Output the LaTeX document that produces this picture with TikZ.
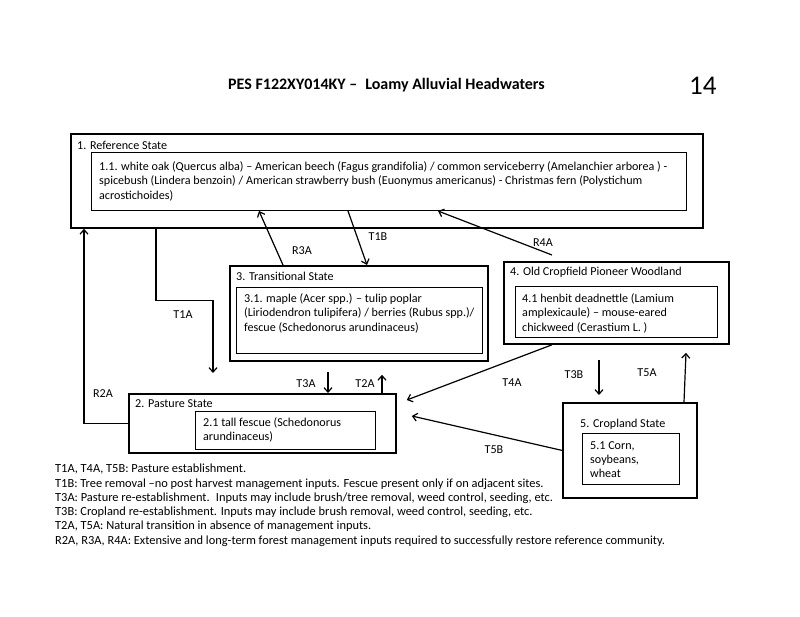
\documentclass[tikz,border=0pt]{standalone}
\usepackage{fontspec}
\setmainfont{Carlito}
\usetikzlibrary{arrows.meta,calc}
\begin{document}
\begin{tikzpicture}[x=1pt,y=-1pt, font=\fontsize{12.1}{14.4}\selectfont,
 outer/.style={draw, line width=1.8pt, anchor=north west, inner sep=0},
 inner/.style={draw, line width=1pt, anchor=north west, inner sep=0},
 txt/.style={anchor=north west, inner sep=0, align=left},
 ttl/.style={anchor=west, inner sep=0},
 conn/.style={line width=1.2pt, -{Straight Barb[length=4.5pt,width=8pt]}},
 tl/.style={inner sep=0}]
\useasboundingbox[fill=white] (0,0) rectangle (800,617);
% title
\node[ttl, font=\bfseries\fontsize{16}{18}\selectfont] (title) at (228,85) {PES F122XY014KY –\enspace Loamy Alluvial Headwaters};
\node[ttl, font=\fontsize{27}{30}\selectfont] (num) at (689,86) {14};
% boxes
\node[outer, minimum width=632, minimum height=94] (ref) at (70,133) {};
\node[inner, minimum width=595, minimum height=58] (refin) at (91,152) {};
\node[outer, minimum width=258, minimum height=95] (trans) at (229,265) {};
\node[inner, minimum width=246, minimum height=66] (transin) at (236,287) {};
\node[outer, minimum width=225, minimum height=82] (old) at (503,261) {};
\node[inner, minimum width=202, minimum height=51] (oldin) at (515,286) {};
\node[outer, minimum width=267, minimum height=59] (past) at (128,393) {};
\node[inner, minimum width=180, minimum height=38] (pastin) at (195,411) {};
\node[outer, minimum width=134, minimum height=95] (crop) at (562,402) {};
\node[inner, minimum width=97, minimum height=51] (cropin) at (582,433) {};
% box titles
\node[ttl] (reft) at (77,145) {1. Reference State};
\node[ttl] (transt) at (236,276) {3. Transitional State};
\node[ttl] (oldt) at (510,272) {4. Old Cropfield Pioneer Woodland};
\node[ttl] (pastt) at (135,404) {2. Pasture State};
\node[ttl] (cropt) at (580,424) {5. Cropland State};
% box texts
\node[txt] (reftx) at (99,161.5) {1.1. white oak (Quercus alba) – American beech (Fagus grandifolia) / common serviceberry (Amelanchier arborea ) -\\
spicebush (Lindera benzoin) / American strawberry bush (Euonymus americanus) - Christmas fern (Polystichum\\
acrostichoides)};
\node[txt] (transtx) at (244,293.5) {3.1. maple (Acer spp.) – tulip poplar\\
(Liriodendron tulipifera) / berries (Rubus spp.)/\\
fescue (Schedonorus arundinaceus)};
\node[txt] (oldtx) at (522,293.5) {4.1 henbit deadnettle (Lamium\\
amplexicaule) – mouse-eared\\
chickweed (Cerastium L. )};
\node[txt] (pasttx) at (203,417.5) {2.1 tall fescue (Schedonorus\\
arundinaceus)};
\node[txt] (croptx) at (590,441) {5.1 Corn,\\
soybeans,\\
wheat};
% connectors
\draw[conn] ($(ref.south west)+(86,0)$) -- ++(0,72) -| ($(past.north west)+(85,-20)$);
\draw[conn] (past.west) -| ($(ref.south west)+(14,0)$);
\draw[conn] ($(trans.north west)+(54,0)$) -- ($(refin.south west)+(168,0)$);
\draw[conn] ($(refin.south west)+(257,0)$) -- ($(trans.north west)+(138,0)$);
\draw[conn] ($(old.north west)+(49,-6)$) -- ($(refin.south west)+(347,0)$);
\draw[conn] ($(trans.south west)+(99,10)$) -- ($(past.north west)+(200,0)$);
\draw[conn] ($(past.north west)+(254,0)$) -- ($(trans.south west)+(153,13)$);
\draw[conn] ($(old.south west)+(49,0)$) -- ($(past.north east)+(10,7)$);
\draw[conn] (crop.west) -- ($(past.north east)+(15,23)$);
\draw[conn] ($(old.south west)+(96,15)$) -- ($(crop.north west)+(37,-7)$);
\draw[conn] ($(crop.north west)+(122,0)$) -- ($(old.south west)+(183,8)$);
% connector labels
\node[tl] (lt1a) at (183,315) {T1A};
\node[tl] (lr2a) at (103,394) {R2A};
\node[tl] (lr3a) at (302,251) {R3A};
\node[tl] (lt1b) at (378,237) {T1B};
\node[tl] (lr4a) at (543,243) {R4A};
\node[tl] (lt3a) at (306,384) {T3A};
\node[tl] (lt2a) at (365,384) {T2A};
\node[tl] (lt4a) at (512,383) {T4A};
\node[tl] (lt5b) at (494,450) {T5B};
\node[tl] (lt3b) at (574,375) {T3B};
\node[tl] (lt5a) at (647,373) {T5A};
% legend
\node[txt, font=\fontsize{12.4}{14.25}\selectfont] (legend) at (55,464) {T1A, T4A, T5B: Pasture establishment.\\
T1B: Tree removal –no post harvest management inputs. Fescue present only if on adjacent sites.\\
T3A: Pasture re-establishment.\enspace Inputs may include brush/tree removal, weed control, seeding, etc.\\
T3B: Cropland re-establishment. Inputs may include brush removal, weed control, seeding, etc.\\
T2A, T5A: Natural transition in absence of management inputs.\\
R2A, R3A, R4A: Extensive and long-term forest management inputs required to successfully restore reference community.};
\end{tikzpicture}
\end{document}
